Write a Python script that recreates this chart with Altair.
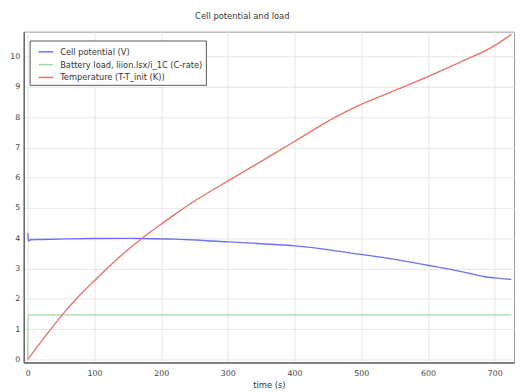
import altair as alt
import pandas as pd

# Cell potential (V)
pot_t = [0, 1, 4, 20, 60, 101, 140, 171, 220, 253, 283, 301, 350, 401, 455, 484, 518, 548, 599, 650, 685, 700, 725]
pot_v = [4.17, 3.91, 3.95, 3.96, 3.98, 3.99, 3.995, 3.99, 3.97, 3.94, 3.90, 3.88, 3.82, 3.75, 3.61, 3.51, 3.41, 3.31, 3.11, 2.90, 2.73, 2.69, 2.64]

# Battery load (C-rate)
load_t = [0, 0.5, 725]
load_v = [0, 1.47, 1.47]

# Temperature (T-T_init (K))
temp_t = [0, 25, 52, 75, 101, 135, 171, 199, 220, 253, 301, 350, 401, 464, 499, 548, 599, 650, 700, 725]
temp_v = [0, 0.73, 1.48, 2.05, 2.62, 3.33, 3.99, 4.45, 4.78, 5.27, 5.90, 6.54, 7.21, 8.03, 8.41, 8.86, 9.33, 9.83, 10.36, 10.73]

names = ["Cell potential (V)", "Battery load, liion.lsx/i_1C (C-rate)", "Temperature (T-T_init (K))"]
colors = ["#6f6ff5", "#a6d9a6", "#e5766b"]

x_ticks = [0, 100, 200, 300, 400, 500, 600, 700]
y_ticks = [0, 1, 2, 3, 4, 5, 6, 7, 8, 9, 10]

rows = []
for name, ts, vs in zip(names, [pot_t, load_t, temp_t], [pot_v, load_v, temp_v]):
    for i, (t, v) in enumerate(zip(ts, vs)):
        rows.append({"series": name, "t": t, "v": v, "i": i})
df = pd.DataFrame(rows)

chart = alt.Chart(df).mark_line(strokeWidth=1.4, interpolate="monotone").encode(
    x=alt.X("t:Q", title="time (s)",
            scale=alt.Scale(domain=[-6, 729], nice=False, zero=False),
            axis=alt.Axis(values=x_ticks, format="d", labelPadding=7)),
    y=alt.Y("v:Q", title=None,
            scale=alt.Scale(domain=[-0.1, 10.82], nice=False, zero=False),
            axis=alt.Axis(values=y_ticks, format="d")),
    color=alt.Color("series:N", scale=alt.Scale(domain=names, range=colors),
                    legend=alt.Legend(title=None, orient="none", legendX=6, legendY=9,
                                      symbolType="stroke", symbolSize=225,
                                      symbolStrokeWidth=1.5, symbolOffset=5,
                                      labelFontSize=8.4, labelFont="DejaVu Sans",
                                      labelColor="#333", labelOffset=6,
                                      rowPadding=0, padding=3,
                                      strokeColor="#555", fillColor="white",
                                      labelLimit=300)),
    order="i:Q",
).properties(
    width=498, height=336,
    autosize=alt.AutoSizeParams(type="none"),
    padding={"left": 16, "top": 21, "right": 2, "bottom": 27},
    title=alt.TitleParams("Cell potential and load", fontSize=8.5, fontWeight="normal",
                          font="DejaVu Sans", color="#333", anchor="middle", dx=-27,
                          offset=2, baseline="bottom"),
).configure_view(
    stroke="#999", strokeWidth=1
).configure_axis(
    labelFont="DejaVu Sans", labelFontSize=8, labelColor="#444",
    titleFont="DejaVu Sans", titleFontSize=8.5, titleFontWeight="normal", titleColor="#333",
    domainColor="#666", domainWidth=1.5, ticks=False, labelPadding=4,
    gridColor="#e6e6e6", gridWidth=1, titlePadding=3
)

chart.save("out.html", embed_options={"renderer": "svg", "actions": False})
